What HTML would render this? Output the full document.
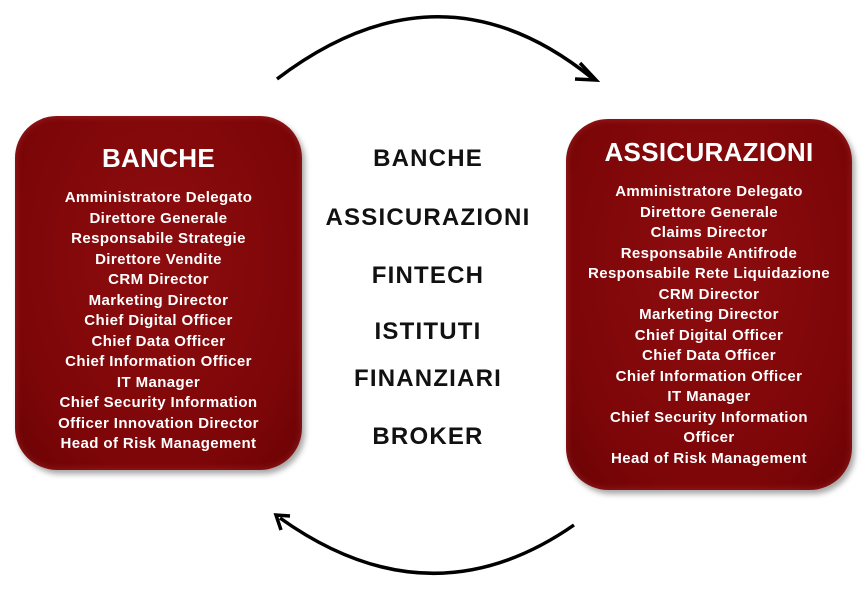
<!DOCTYPE html>
<html><head><meta charset="utf-8"><style>
body{margin:0;width:866px;height:590px;background:#fff;position:relative;overflow:hidden;font-family:"Liberation Sans",sans-serif;}
.box{position:absolute;border-radius:42px;background:radial-gradient(ellipse at 50% 40%,#8e0d0f 0%,#7d0608 70%,#6a0305 100%);box-shadow:3px 4px 6px rgba(0,0,0,0.35), inset 0 0 8px rgba(255,120,120,0.25);color:#fff;text-align:center;font-weight:bold;}
.t{position:absolute;left:0;right:0;font-size:26px;letter-spacing:0.3px;}
.l{position:absolute;left:0;right:0;font-size:15px;line-height:20.5px;letter-spacing:0.4px;white-space:nowrap;}
.m{position:absolute;left:280px;width:296px;text-align:center;font-weight:bold;font-size:24px;color:#111;letter-spacing:1.2px;}
</style></head><body>
<svg width="866" height="590" style="position:absolute;left:0;top:0">
<path d="M277 79 Q440 -45 592 78" fill="none" stroke="#000" stroke-width="3.5"/>
<path d="M580 63 L596 80 L575 79" fill="none" stroke="#000" stroke-width="3.5"/>
<path d="M574 525 Q430 625 280 518" fill="none" stroke="#000" stroke-width="3.5"/>
<path d="M290 516 L276 515 L281 530" fill="none" stroke="#000" stroke-width="3.5"/>
</svg>
<div class="box" style="left:15px;top:116px;width:287px;height:354px;">
<div class="t" style="top:27px">BANCHE</div>
<div class="l" style="top:72px">Amministratore Delegato<br>Direttore Generale<br>Responsabile Strategie<br>Direttore Vendite<br>CRM Director<br>Marketing Director<br>Chief Digital Officer<br>Chief Data Officer<br>Chief Information Officer<br>IT Manager<br>Chief Security Information<br>Officer Innovation Director<br>Head of Risk Management</div>
</div>
<div class="box" style="left:566px;top:119px;width:286px;height:371px;">
<div class="t" style="top:18px">ASSICURAZIONI</div>
<div class="l" style="top:63px">Amministratore Delegato<br>Direttore Generale<br>Claims Director<br>Responsabile Antifrode<br>Responsabile Rete Liquidazione<br>CRM Director<br>Marketing Director<br>Chief Digital Officer<br>Chief Data Officer<br>Chief Information Officer<br>IT Manager<br>Chief Security Information<br>Officer<br>Head of Risk Management</div>
</div>
<div class="m" style="top:145px">BANCHE</div>
<div class="m" style="top:204px">ASSICURAZIONI</div>
<div class="m" style="top:262px">FINTECH</div>
<div class="m" style="top:318px">ISTITUTI</div>
<div class="m" style="top:365px">FINANZIARI</div>
<div class="m" style="top:423px">BROKER</div>
</body></html>
